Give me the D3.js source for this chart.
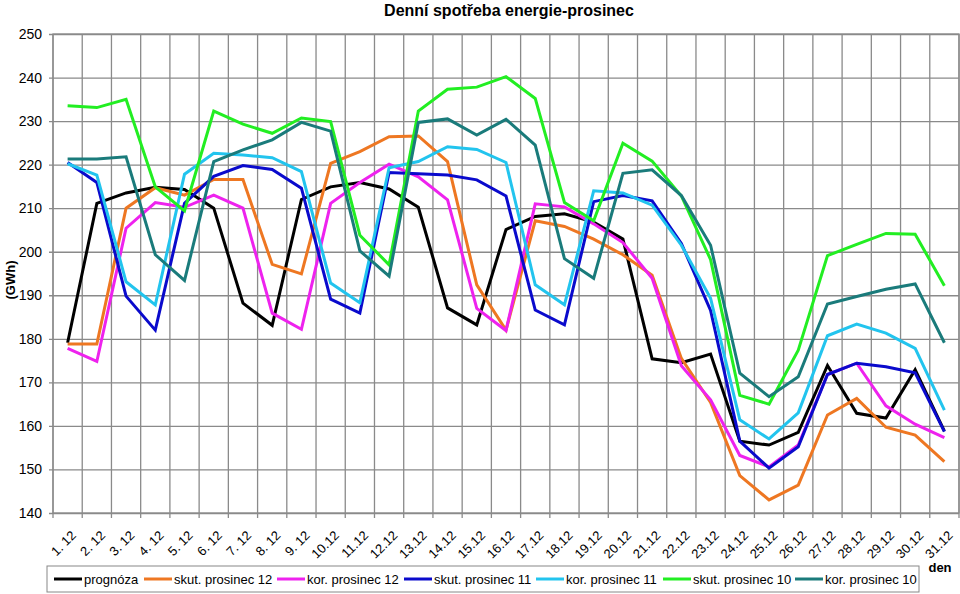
<!DOCTYPE html>
<html>
<head>
<meta charset="utf-8">
<script src="https://cdn.jsdelivr.net/npm/d3@7"></script>
<style>
  body { margin: 0; background: #fff; }
  svg { display: block; font-family: Arial, "Liberation Sans", sans-serif; }
</style>
</head>
<body>
<svg id="chart" width="960" height="594"></svg>
<script>
const days = ["1. 12","2. 12","3. 12","4. 12","5. 12","6. 12","7. 12","8. 12","9. 12","10.12","11.12","12.12","13.12","14.12","15.12","16.12","17.12","18.12","19.12","20.12","21.12","22.12","23.12","24.12","25.12","26.12","27.12","28.12","29.12","30.12","31.12"];
const yTicks = [140,150,160,170,180,190,200,210,220,230,240,250];

const prognoza = [179.1,211.1,213.5,214.8,214.3,210.0,188.2,183.1,212.0,214.9,215.9,214.4,210.2,187.1,183.2,205.1,208.1,208.7,206.8,202.9,175.4,174.5,176.5,156.5,155.6,158.5,173.9,162.9,161.8,172.9,158.8];
const skut12 = [178.8,178.8,210.0,214.7,213.0,216.6,216.6,197.1,194.9,220.3,223.0,226.4,226.6,220.7,192.4,182.0,207.1,205.8,202.9,199.3,194.6,175.5,165.4,148.6,143.0,146.4,162.5,166.3,159.7,157.9,151.8];
const kor12 = [177.8,174.8,205.4,211.3,210.2,213.0,210.0,185.9,182.2,211.1,215.9,220.1,217.2,211.9,187.0,181.9,211.0,210.3,206.4,202.1,193.9,173.8,166.0,153.2,150.6,155.6,171.8,174.4,164.6,160.4,157.3];
const skut11 = [220.5,215.9,189.8,182.0,211.1,217.3,219.8,218.9,214.6,189.1,185.9,218.2,217.9,217.6,216.5,212.8,186.6,183.2,211.5,212.9,211.7,201.9,186.5,156.5,150.3,155.2,171.8,174.4,173.6,172.2,158.7];
const kor11 = [220.2,217.6,193.1,187.8,217.8,222.6,222.2,221.6,218.4,192.8,188.3,219.3,220.7,224.1,223.5,220.5,192.4,187.8,214.0,213.5,210.7,201.5,189.3,161.4,157.0,163.0,180.7,183.4,181.3,177.8,163.6];
const skut10 = [233.5,233.1,235.0,214.9,209.4,232.3,229.3,227.2,230.7,229.9,203.8,197.0,232.3,237.3,237.8,240.2,235.2,211.3,207.1,224.9,220.8,212.8,198.2,167.0,165.0,177.4,199.1,201.7,204.2,204.0,192.2];
const kor10 = [221.3,221.3,221.8,199.3,193.4,220.7,223.4,225.7,229.7,227.7,200.2,194.4,229.7,230.5,226.8,230.4,224.5,198.4,193.9,218.0,218.8,212.9,201.5,172.1,166.7,171.3,188.0,189.7,191.4,192.6,179.1];

const seriesNames = ["prognóza","skut. prosinec 12","kor. prosinec 12","skut. prosinec 11","kor. prosinec 11","skut. prosinec 10","kor. prosinec 10"];
const seriesColors = ["#000000","#ee7722","#ee22ee","#0a0acc","#22c4ee","#22ee22","#1a7b7b"];
const seriesData = [prognoza, skut12, kor12, skut11, kor11, skut10, kor10];

(function () {
const svg = d3.select("#chart");
const pL = 53, pR = 959, pT = 34, pB = 513;

const x = d3.scaleBand().domain(days).range([pL, pR]).padding(0);
const y = d3.scaleLinear().domain([140, 250]).range([pB, pT]);
const cx = d => x(d) + x.bandwidth() / 2;

// horizontal grid + y axis
const yAxis = d3.axisLeft(y).tickValues(yTicks).tickSize(-(pR - pL)).tickPadding(11).tickFormat(d3.format("d"));
const gy = svg.append("g").attr("transform", `translate(${pL},0)`).call(yAxis);
gy.select(".domain").remove();
gy.selectAll(".tick line").attr("stroke", "#8a8a8a").attr("stroke-width", 1.3).attr("x1", -4);
gy.selectAll(".tick text").attr("font-size", 14).attr("fill", "#000");

// vertical grid lines at category boundaries
const bounds = days.map(d => x(d)).concat([pR]);
svg.append("g").selectAll("line").data(bounds).join("line")
  .attr("x1", d => d).attr("x2", d => d)
  .attr("y1", pT).attr("y2", pB + 5)
  .attr("stroke", "#8a8a8a").attr("stroke-width", 1.3);

// x axis labels
const xAxis = d3.axisBottom(x).tickSize(0).tickPadding(0);
const gx = svg.append("g").attr("transform", `translate(0,${pB})`).call(xAxis);
gx.select(".domain").remove();
gx.selectAll(".tick text")
  .attr("font-size", 13).attr("fill", "#000")
  .attr("text-anchor", "end")
  .attr("transform", "translate(6,20) rotate(-45)")
  .attr("dy", "0.35em");

// frame
svg.append("rect").attr("x", pL).attr("y", pT).attr("width", pR - pL).attr("height", pB - pT)
  .attr("fill", "none").attr("stroke", "#8a8a8a").attr("stroke-width", 1.3);

// lines
const line = d3.line().x((v, i) => cx(days[i])).y(v => y(v));
svg.append("g").selectAll("path").data(seriesData).join("path")
  .attr("d", d => line(d))
  .attr("fill", "none")
  .attr("stroke", (d, i) => seriesColors[i])
  .attr("stroke-width", 3)
  .attr("stroke-linejoin", "miter");

// title
svg.append("text").attr("x", 509).attr("y", 16).attr("text-anchor", "middle")
  .attr("font-size", 16).attr("font-weight", "bold").text("Denní spotřeba energie-prosinec");

// y label
svg.append("text").attr("transform", "translate(15,280) rotate(-90)").attr("text-anchor", "middle")
  .attr("font-size", 13).attr("font-weight", "bold").text("(GWh)");

// x label
svg.append("text").attr("x", 940).attr("y", 572).attr("text-anchor", "middle")
  .attr("font-size", 13).attr("font-weight", "bold").text("den");

// legend
const lg = svg.append("g");
lg.append("rect").attr("x", 47).attr("y", 566).attr("width", 872).attr("height", 26)
  .attr("fill", "#fff").attr("stroke", "#888").attr("stroke-width", 1);
const legX = [54, 144, 277, 404, 536, 663, 795];
const items = lg.selectAll("g.item").data(seriesNames).join("g").attr("class", "item")
  .attr("transform", (d, i) => `translate(${legX[i]},579)`);
items.append("line").attr("x1", 0).attr("x2", 28).attr("y1", 0).attr("y2", 0)
  .attr("stroke", (d, i) => seriesColors[i]).attr("stroke-width", 3);
items.append("text").attr("x", 30).attr("y", 0).attr("dy", "0.35em")
  .attr("font-size", 13).text(d => d);
})();
</script>
</body>
</html>
